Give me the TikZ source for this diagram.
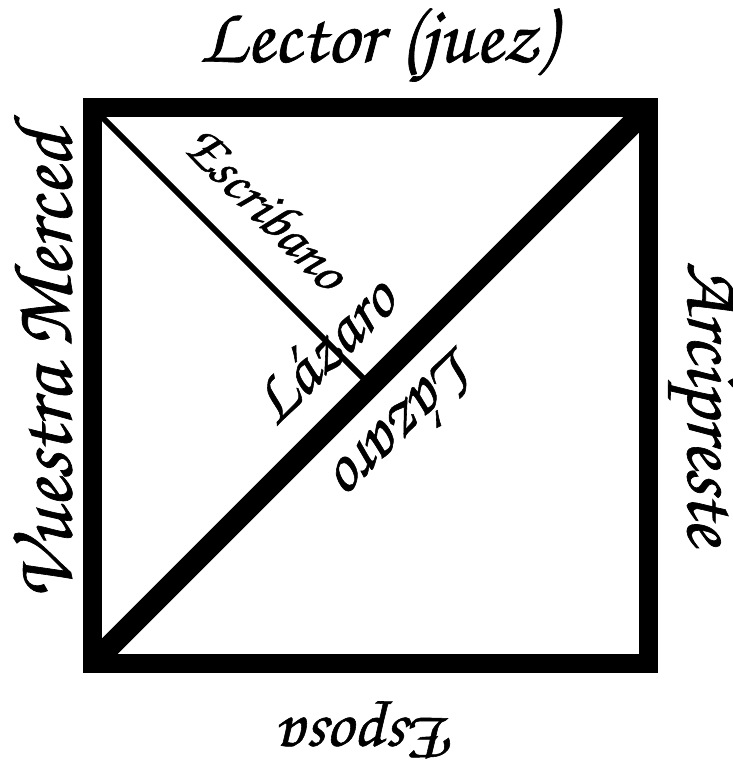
\documentclass[tikz,border=0pt]{standalone}
\usepackage{fontspec}
\newfontfamily\chorus[FakeBold=0.8]{TeX Gyre Chorus}
\usepackage{graphicx}
\begin{document}
\begin{tikzpicture}[x=1pt,y=-1pt,
  frame/.style={line width=19pt, line join=miter},
  thick diag/.style={line width=22pt},
  thin diag/.style={line width=6pt},
  lbl/.style={inner sep=0pt, font=\chorus}]
\useasboundingbox (0,0) rectangle (733,776);
\coordinate (tl) at (92.5,107.5);
\coordinate (tr) at (648.5,107.5);
\coordinate (br) at (648.5,663.5);
\coordinate (bl) at (92.5,663.5);
\coordinate (c) at (370.5,385.5);
\begin{scope}
\clip (tl) rectangle (br);
\draw[thick diag] (bl) -- (tr);
\draw[thin diag] (tl) -- (c);
\end{scope}
\draw[frame] (tl) -- (tr) -- (br) -- (bl) -- cycle;
\node[lbl] (lector) at (377,45) {\resizebox{355pt}{!}{Lector (juez)}};
\node[lbl, rotate=90] (vm) at (43,366) {\resizebox{470pt}{!}{Vuestra Merced}};
\node[lbl, rotate=-90] (arc) at (703,403) {\resizebox{283pt}{!}{Arcipreste}};
\node[lbl, rotate=180] (esp) at (370,730) {\resizebox{172pt}{!}{Esposa}};
\node[lbl, rotate=-45] (escr) at (267,207) {\resizebox{205pt}{!}{Escribano}};
\node[lbl, rotate=45] (laz1) at (322,350) {\resizebox{175pt}{!}{L\'azaro}};
\node[lbl, rotate=225] (laz2) at (410,423) {\resizebox{180pt}{!}{L\'azaro}};
\end{tikzpicture}
\end{document}
